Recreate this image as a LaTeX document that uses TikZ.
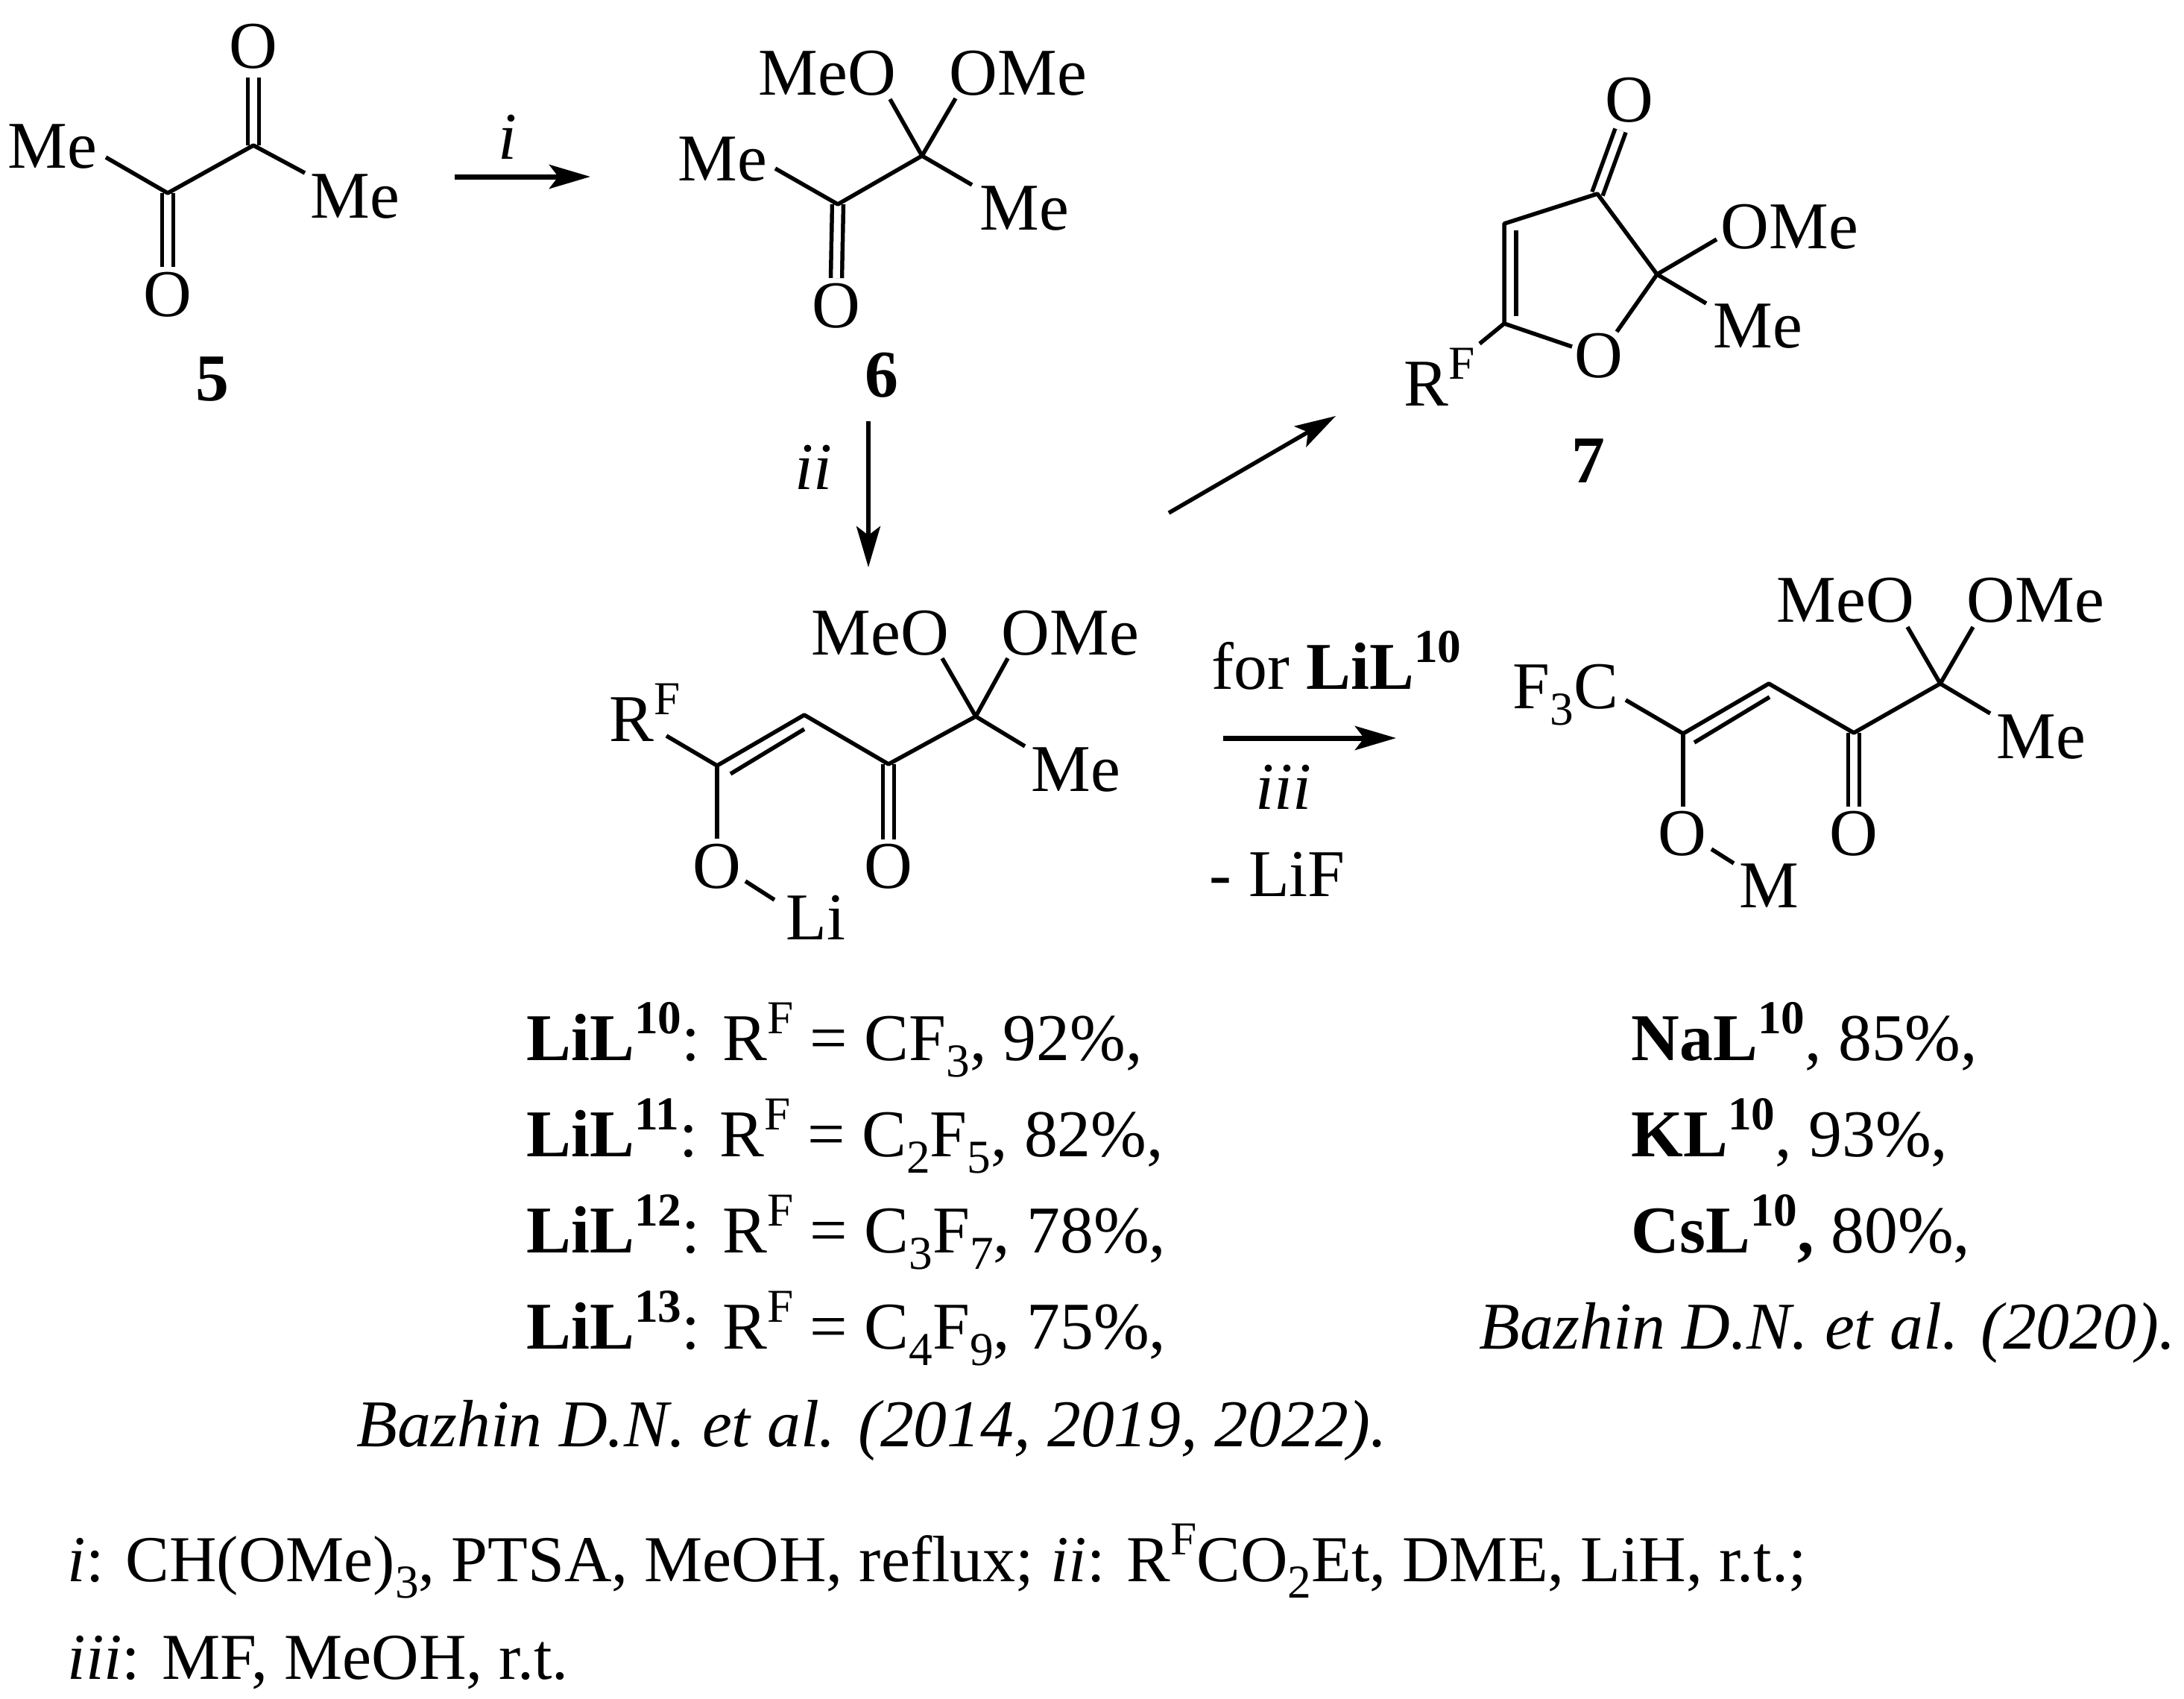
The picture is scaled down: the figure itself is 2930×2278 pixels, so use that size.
\documentclass[tikz,border=0pt]{standalone}
\usepackage{fontspec}
\setmainfont{Liberation Serif}
\usetikzlibrary{arrows.meta,positioning}
\newcommand{\up}[1]{\raisebox{.40em}{\fontsize{18}{18}\selectfont #1}}
\newcommand{\dn}[1]{\raisebox{-.25em}{\fontsize{18}{18}\selectfont #1}}
\tikzstyle{txt} = [inner sep=0,anchor=base west,font=\fontsize{25.5}{28}\selectfont]
\tikzstyle{num} = [inner sep=0,anchor=base,font=\fontsize{25.5}{28}\selectfont\bfseries]
\tikzstyle{atom} = [inner sep=0,anchor=base,font=\fontsize{25.5}{28}\selectfont]
\tikzstyle{cond} = [inner sep=0,anchor=base west,font=\fontsize{25}{28}\selectfont]
\tikzstyle{bond} = [-,line width=0.055cm,line join=round]
\tikzstyle{dbl} = [-,line width=0.055cm,double,double distance=0.095cm]
\tikzstyle{arr} = [-{Stealth[length=0.55cm,width=0.32cm,inset=0.12cm]},line width=0.055cm]

\begin{document}
\begin{tikzpicture}[x=0.01cm,y=-0.01cm]
      \useasboundingbox (0,0) rectangle (2930,2278);
      % diketone
      \coordinate (c5a) at (225,259);
      \coordinate (c5b) at (340,195);
      \coordinate (e5a) at (142,211);
      \coordinate (e5b) at (409,232);
      \coordinate (e5c) at (225,358);
      \coordinate (e5d) at (340,104);
      \node[txt] (me5a) at (10,225) {Me};
      \node[txt] (me5b) at (416,292) {Me};
      \node[atom] (o5a) at (340,91) {O};
      \node[atom] (o5b) at (225,424) {O};
      \node[num] (n5) at (285,537) {5};
      \draw[dbl] (c5a) -- (e5c);
      \draw[dbl] (c5b) -- (e5d);
      \draw[bond] (e5a) -- (c5a) -- (c5b) -- (e5b);
      % arrow i
      \coordinate (i1) at (610,237);
      \coordinate (i2) at (792,237);
      \draw[arr,line width=0.07cm] (i1) -- (i2);
      \node[txt] (li) at (668,213) {\textit{i}};
      % ketal
      \coordinate (c6a) at (1124,274);
      \coordinate (c6b) at (1237,209);
      \coordinate (e6a) at (1040,226);
      \coordinate (e6b) at (1194,133);
      \coordinate (e6c) at (1282,132);
      \coordinate (e6d) at (1304,248);
      \coordinate (e6e) at (1122,373);
      \node[txt] (me6a) at (909,242) {Me};
      \node[txt] (meo6) at (1017,127) {MeO};
      \node[txt] (ome6) at (1273,127) {OMe};
      \node[txt] (me6b) at (1314,308) {Me};
      \node[atom] (o6) at (1122,439) {O};
      \node[num] (n6) at (1183,532) {6};
      \draw[dbl] (c6a) -- (e6e);
      \draw[bond] (e6a) -- (c6a) -- (c6b) -- (e6d);
      \draw[bond] (e6b) -- (c6b) -- (e6c);
      % arrow ii
      \coordinate (ii1) at (1165,565);
      \coordinate (ii2) at (1165,761);
      \draw[arr] (ii1) -- (ii2);
      \node[txt] (lii) at (1066,656) {\textit{ii}};
      % arrow to furanone
      \coordinate (f1) at (1568,688);
      \coordinate (f2) at (1792,558);
      \draw[arr] (f1) -- (f2);
      % furanone
      \coordinate (c7a) at (2143,260);
      \coordinate (c7b) at (2018,300);
      \coordinate (c7c) at (2018,434);
      \coordinate (c7d) at (2223,368);
      \coordinate (e7a) at (2174,175);
      \coordinate (e7b) at (2109,465);
      \coordinate (e7c) at (2169,445);
      \coordinate (e7d) at (2303,321);
      \coordinate (e7e) at (2289,407);
      \coordinate (e7f) at (1985,461);
      \coordinate (d7a) at (2034,309);
      \coordinate (d7b) at (2034,424);
      \node[atom] (o7a) at (2186,163) {O};
      \node[atom] (o7b) at (2145,506) {O};
      \node[txt] (ome7) at (2308,333) {OMe};
      \node[txt] (me7) at (2298,466) {Me};
      \node[txt] (rf7) at (1883,544) {R\up{F}};
      \node[num] (n7) at (2131,647) {7};
      \draw[dbl] (c7a) -- (e7a);
      \draw[bond] (c7d) -- (c7a) -- (c7b) -- (c7c) -- (e7b);
      \draw[bond] (e7c) -- (c7d) -- (e7d);
      \draw[bond] (c7d) -- (e7e);
      \draw[bond] (c7c) -- (e7f);
      \draw[bond] (d7a) -- (d7b);
      % lithium salt
      \coordinate (c8a) at (962,1027);
      \coordinate (c8b) at (1079,959);
      \coordinate (c8c) at (1192,1025);
      \coordinate (c8d) at (1309,961);
      \coordinate (e8a) at (1264,883);
      \coordinate (e8b) at (1352,883);
      \coordinate (e8c) at (1375,1001);
      \coordinate (e8d) at (894,987);
      \coordinate (e8e) at (962,1125);
      \coordinate (e8f) at (1192,1126);
      \coordinate (e8g) at (1000,1182);
      \coordinate (e8h) at (1039,1207);
      \coordinate (d8a) at (980,1038);
      \coordinate (d8b) at (1079,978);
      \node[txt] (meo8) at (1088,878) {MeO};
      \node[txt] (ome8) at (1343,878) {OMe};
      \node[txt] (me8) at (1383,1061) {Me};
      \node[txt] (rf8) at (817,994) {R\up{F}};
      \node[atom] (o8a) at (962,1191) {O};
      \node[atom] (o8b) at (1192,1191) {O};
      \node[txt] (li8) at (1054,1260) {Li};
      \draw[dbl] (c8c) -- (e8f);
      \draw[bond] (e8d) -- (c8a) -- (c8b) -- (c8c) -- (c8d) -- (e8c);
      \draw[bond] (e8a) -- (c8d) -- (e8b);
      \draw[bond] (c8a) -- (e8e);
      \draw[bond] (d8a) -- (d8b);
      \draw[bond] (e8g) -- (e8h);
      % arrow iii
      \node[txt] (forli) at (1625,924) {for \textbf{LiL\up{10}}};
      \coordinate (m1) at (1641,990);
      \coordinate (m2) at (1873,990);
      \draw[arr,line width=0.07cm] (m1) -- (m2);
      \node[txt] (liii) at (1684,1085) {\textit{iii}};
      \node[txt] (lif) at (1622,1202) {- LiF};
      % metal salt
      \coordinate (c9a) at (2258,984);
      \coordinate (c9b) at (2373,917);
      \coordinate (c9c) at (2487,983);
      \coordinate (c9d) at (2603,917);
      \coordinate (e9a) at (2559,841);
      \coordinate (e9b) at (2647,841);
      \coordinate (e9c) at (2670,957);
      \coordinate (e9d) at (2181,939);
      \coordinate (e9e) at (2258,1082);
      \coordinate (e9f) at (2487,1082);
      \coordinate (e9g) at (2296,1139);
      \coordinate (e9h) at (2326,1158);
      \coordinate (d9a) at (2273,996);
      \coordinate (d9b) at (2374,935);
      \node[txt] (meo9) at (2383,834) {MeO};
      \node[txt] (ome9) at (2638,834) {OMe};
      \node[txt] (me9) at (2678,1017) {Me};
      \node[txt] (cf9) at (2029,950) {F\dn{3}C};
      \node[atom] (o9a) at (2257,1147) {O};
      \node[atom] (o9b) at (2487,1147) {O};
      \node[txt] (m9) at (2333,1217) {M};
      \draw[dbl] (c9c) -- (e9f);
      \draw[bond] (e9d) -- (c9a) -- (c9b) -- (c9c) -- (c9d) -- (e9c);
      \draw[bond] (e9a) -- (c9d) -- (e9b);
      \draw[bond] (c9a) -- (e9e);
      \draw[bond] (d9a) -- (d9b);
      \draw[bond] (e9g) -- (e9h);
      % yields
      \node[txt] (lil10) at (706,1422) {\textbf{LiL\up{10}}: R\up{F} = CF\dn{3}, 92\%,};
      \node[below=1.29cm of lil10.base west,txt] (lil11) {\textbf{LiL\up{11}}: R\up{F} = C\dn{2}F\dn{5}, 82\%,};
      \node[below=1.29cm of lil11.base west,txt] (lil12) {\textbf{LiL\up{12}}: R\up{F} = C\dn{3}F\dn{7}, 78\%,};
      \node[below=1.29cm of lil12.base west,txt] (lil13) {\textbf{LiL\up{13}}: R\up{F} = C\dn{4}F\dn{9}, 75\%,};
      \node[txt] (ref1) at (478,1940) {\textit{Bazhin D.N. et al. (2014, 2019, 2022).}};
      \node[txt] (nal) at (2188,1422) {\textbf{NaL\up{10}}, 85\%,};
      \node[below=1.29cm of nal.base west,txt] (kl) {\textbf{KL\up{10}}, 93\%,};
      \node[below=1.29cm of kl.base west,txt] (csl) {\textbf{CsL\up{10},} 80\%,};
      \node[txt] (ref2) at (1984,1809) {\textit{Bazhin D.N. et al. (2020).}};
      % conditions
      \node[cond] (cond1) at (90,2121) {\textit{i}: CH(OMe)\dn{3}, PTSA, MeOH, reflux; \textit{ii}: R\up{F}CO\dn{2}Et, DME, LiH, r.t.;};
      \node[cond] (cond2) at (90,2252) {\textit{iii}: MF, MeOH, r.t.};
    \end{tikzpicture}
\end{document}
